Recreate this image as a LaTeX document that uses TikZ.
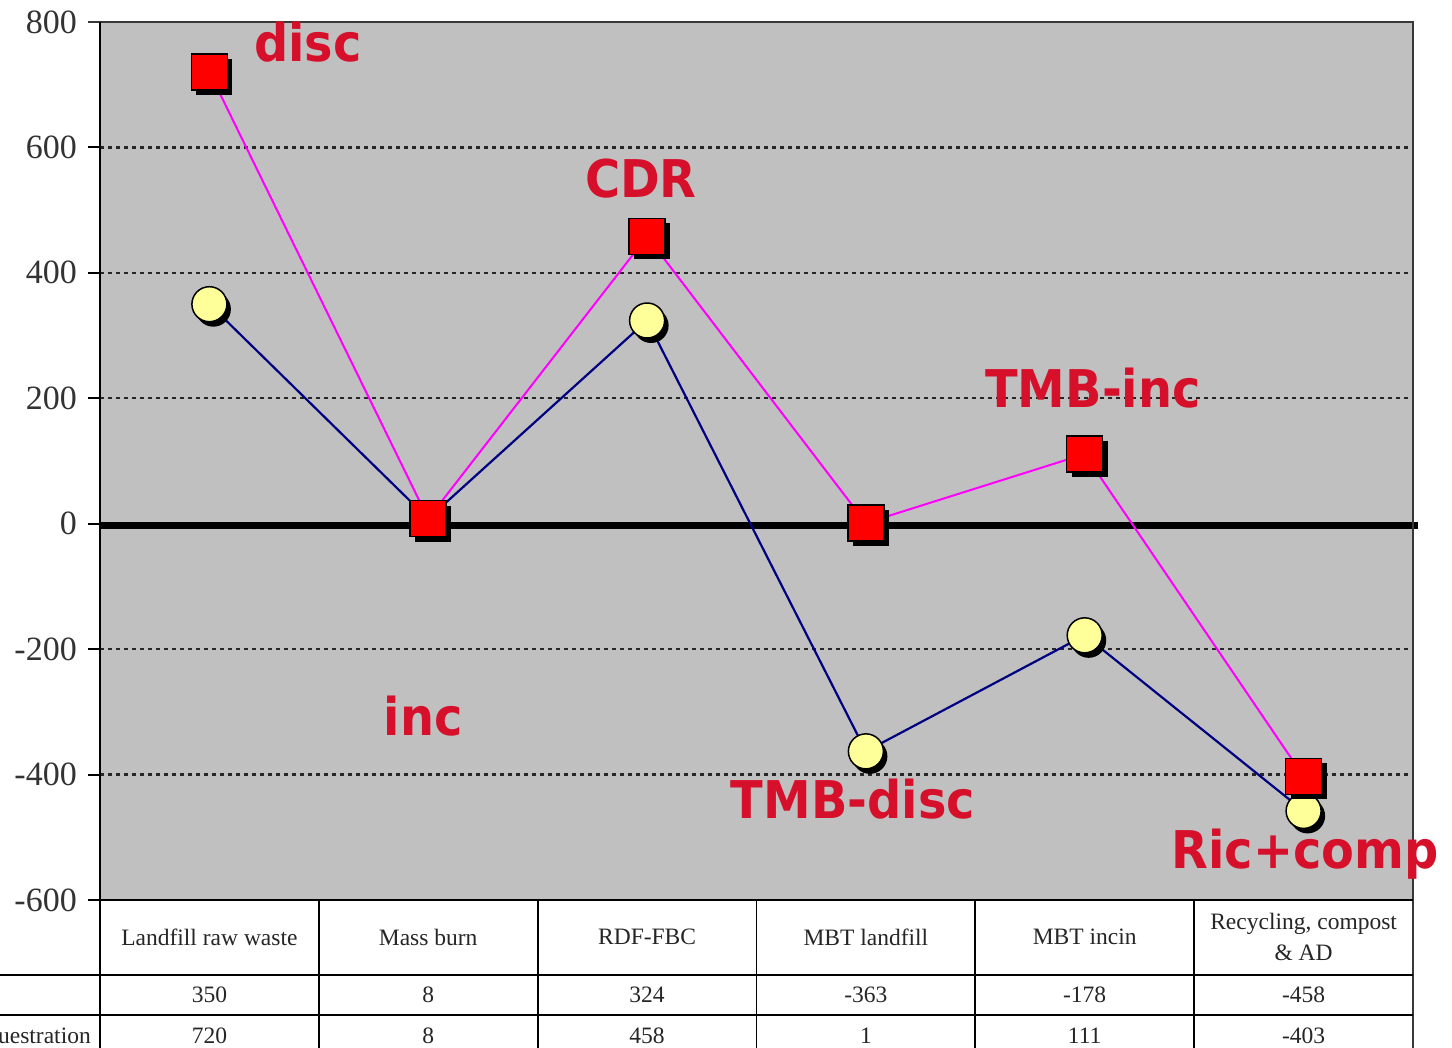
\documentclass[tikz,border=0pt]{standalone}
\usepackage{fontspec}
\setmainfont{Liberation Serif}
\newfontfamily\lblfont{DejaVu Sans}
\usetikzlibrary{shadows}
\definecolor{plotbg}{HTML}{C0C0C0}
\definecolor{navyline}{HTML}{000080}
\definecolor{magline}{HTML}{FF00FF}
\definecolor{lblred}{HTML}{D6102A}
\definecolor{circfill}{HTML}{FFFF99}
\begin{document}
\begin{tikzpicture}[x=1pt,y=-1pt,
  declare function={yy(\v)=523.7-0.62714*\v;},
  gridline/.style={draw=black!85, line width=2.2pt, dash pattern=on 4pt off 4pt},
  frameline/.style={draw=black!78, line width=2.2pt},
  tblline/.style={draw=black, line width=1.8pt},
  sqmark/.style={rectangle, minimum size=36pt, inner sep=0pt, fill=red, draw=black, line width=1.5pt,
    drop shadow={shadow xshift=5pt, shadow yshift=-5pt, fill=black, opacity=1}},
  cirmark/.style={circle, minimum size=35pt, inner sep=0pt, fill=circfill, draw=black, line width=1.5pt,
    drop shadow={shadow xshift=4pt, shadow yshift=-5pt, fill=black, opacity=1}},
  navyser/.style={draw=navyline, line width=2.2pt},
  magser/.style={draw=magline, line width=2pt},
  lbl/.style={text=lblred, font=\lblfont\bfseries\fontsize{52}{52}\selectfont, xscale=0.92, anchor=base, inner sep=0pt},
  axlbl/.style={font=\fontsize{34}{34}\selectfont, text=black!80, anchor=east, inner sep=0pt},
  tbltxt/.style={font=\fontsize{23.5}{31}\selectfont, text=black!85, inner sep=0pt, align=center}
]
\useasboundingbox (0,0) rectangle (1452,1048);
\fill[white] (0,0) rectangle (1452,1048);
% plot area
\fill[plotbg] (100,22) rectangle (1413,900);
% grid
\foreach \v in {600,400,200,-200,-400}{
  \draw[gridline] (100,{yy(\v)}) -- (1413,{yy(\v)});
}
% ticks and axis labels
\foreach \v in {800,600,400,200,0,-200,-400,-600}{
  \draw[black, line width=2pt] (88,{yy(\v)}) -- (100,{yy(\v)});
  \node[axlbl] (ax\v) at (77,{yy(\v)}) {\v};
}
% zero line
\draw[black, line width=7pt] (100,525) -- (1418,525);
% frame
\draw[frameline] (88,22) -- (1413,22) -- (1413,1048);
\draw[black, line width=2pt] (100,22) -- (100,1048);
% table
\draw[tblline] (100,900) -- (1413,900);
\draw[tblline] (0,975) -- (1413,975);
\draw[tblline] (0,1015) -- (1413,1015);
\foreach \xx in {318.8,537.7,756.5,975.3,1194.2}{
  \draw[tblline] (\xx,900) -- (\xx,1048);
}
\node[tbltxt] (h1) at (209.4,937) {Landfill raw waste};
\node[tbltxt] (h2) at (428.2,937) {Mass burn};
\node[tbltxt] (h3) at (647.1,937) {RDF-FBC};
\node[tbltxt] (h4) at (865.9,937) {MBT landfill};
\node[tbltxt] (h5) at (1084.7,937) {MBT incin};
\node[tbltxt] (h6) at (1303.6,937) {Recycling, compost\\ \& AD};
\foreach \xx/\t [count=\i] in {209.4/350,428.2/8,647.1/324,865.9/-363,1084.7/-178,1303.6/-458}{
  \node[tbltxt] (ra\i) at (\xx,995) {\t};
}
\foreach \xx/\t [count=\i] in {209.4/720,428.2/8,647.1/458,865.9/1,1084.7/111,1303.6/-403}{
  \node[tbltxt] (rb\i) at (\xx,1036) {\t};
}
\node[tbltxt, anchor=east] (rowlbl) at (91,1036) {uestration};
% data coordinates
\coordinate (a1) at (209.4,{yy(350)});
\coordinate (a2) at (428.2,{yy(8)});
\coordinate (a3) at (647.1,{yy(324)});
\coordinate (a4) at (865.9,{yy(-363)});
\coordinate (a5) at (1084.7,{yy(-178)});
\coordinate (a6) at (1303.6,{yy(-458)});
\coordinate (b1) at (209.4,{yy(720)});
\coordinate (b2) at (428.2,{yy(8)});
\coordinate (b3) at (647.1,{yy(458)});
\coordinate (b4) at (865.9,{yy(1)});
\coordinate (b5) at (1084.7,{yy(111)});
\coordinate (b6) at (1303.6,{yy(-403)});
% series lines
\draw[navyser] (a1) -- (a2) -- (a3) -- (a4) -- (a5) -- (a6);
\draw[magser] (b1) -- (b2) -- (b3) -- (b4) -- (b5) -- (b6);
% markers
\foreach \i in {1,...,6}{ \node[cirmark] (ma\i) at (a\i) {}; }
\foreach \i in {1,...,6}{ \node[sqmark] (mb\i) at (b\i) {}; }
% labels
\node[lbl] (ldisc) at (308,62) {disc};
\node[lbl] (lcdr) at (641,198) {CDR};
\node[lbl] (ltmbinc) at (1093,408) {TMB-inc};
\node[lbl] (linc) at (423,735) {inc};
\node[lbl] (ltmbdisc) at (853,818) {TMB-disc};
\node[lbl] (lric) at (1305,868) {Ric+comp};
\end{tikzpicture}
\end{document}
